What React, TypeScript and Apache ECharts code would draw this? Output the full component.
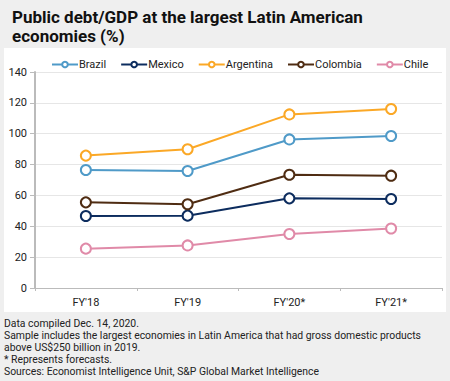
import React, { useEffect, useRef } from "react";
import * as echarts from "echarts";

const categories = ["FY'18", "FY'19", "FY'20*", "FY'21*"];
const brazil = [76.5, 75.8, 96.3, 98.5];
const mexico = [46.7, 46.9, 58.1, 57.7];
const argentina = [85.8, 89.9, 112.5, 116.0];
const colombia = [55.5, 54.3, 73.4, 72.8];
const chile = [25.5, 27.6, 35.0, 38.6];
const seriesNames = ["Brazil", "Mexico", "Argentina", "Colombia", "Chile"];
const seriesColors = ["#4f9ac8", "#0c2c5e", "#fba826", "#4f2c12", "#e08aa8"];
const yTicks = { min: 0, max: 140, interval: 20 };

const titleText = "Public debt/GDP at the largest Latin American\neconomies (%)";
const footnotes = [
  "Data compiled Dec. 14, 2020.",
  "Sample includes the largest economies in Latin America that had gross domestic products",
  "above US$250 billion in 2019.",
  "* Represents forecasts.",
  "Sources: Economist Intelligence Unit, S&P Global Market Intelligence",
];

export default function App() {
  const ref = useRef<HTMLDivElement>(null);
  useEffect(() => {
    if (!ref.current) return;
    const chart = echarts.init(ref.current, undefined, { renderer: "svg" });
    const data = [brazil, mexico, argentina, colombia, chile];
    const font = "Roboto, 'Liberation Sans', sans-serif";
    chart.setOption({
      animation: false,
      backgroundColor: "#efefef",
      textStyle: { fontFamily: font },
      title: {
        text: titleText,
        left: 7,
        top: 2,
        textStyle: { fontSize: 17, fontWeight: "bold", color: "#111", lineHeight: 19, fontFamily: font },
      },
      graphic: [
        {
          type: "rect",
          z: -10,
          shape: { x: 4, y: 48, width: 442, height: 264 },
          style: { fill: "#ffffff" },
          silent: true,
        },
        {
          type: "text",
          left: 4,
          top: 317,
          style: {
            text: footnotes.join("\n"),
            fontSize: 10.4,
            lineHeight: 12,
            fill: "#222",
            fontFamily: font,
          },
        },
      ],
      legend: {
        top: 54,
        left: 46,
        itemWidth: 26,
        itemHeight: 7,
        itemGap: 14,
        textStyle: { fontSize: 11, color: "#222", padding: [0, 0, 0, -4] },
        data: seriesNames,
      },
      grid: { left: 35, right: 8, top: 72, bottom: 93, containLabel: false },
      xAxis: {
        type: "category",
        data: categories,
        boundaryGap: true,
        axisLine: { lineStyle: { color: "#bbbbbb", width: 1 } },
        axisTick: { show: true, length: 3, lineStyle: { color: "#bbbbbb" } },
        axisLabel: { fontSize: 11, color: "#222", margin: 9 },
      },
      yAxis: {
        type: "value",
        min: yTicks.min,
        max: yTicks.max,
        interval: yTicks.interval,
        axisLine: { show: true, lineStyle: { color: "#bbbbbb", width: 2 } },
        axisTick: { show: true, length: 5, lineStyle: { color: "#bbbbbb" } },
        axisLabel: { fontSize: 11, color: "#222", margin: 8 },
        splitLine: { lineStyle: { color: "#e6e6e6", width: 1 } },
      },
      series: seriesNames.map((name, i) => ({
        name,
        type: "line",
        data: data[i],
        color: seriesColors[i],
        symbol: "circle",
        symbolSize: 10,
        lineStyle: { width: 2, color: seriesColors[i] },
        itemStyle: { color: "#ffffff", borderColor: seriesColors[i], borderWidth: 2 },
      })),
    });
    return () => chart.dispose();
  }, []);
  return <div ref={ref} style={{ width: 450, height: 381, position: "absolute", left: 0, top: 0 }} />;
}
